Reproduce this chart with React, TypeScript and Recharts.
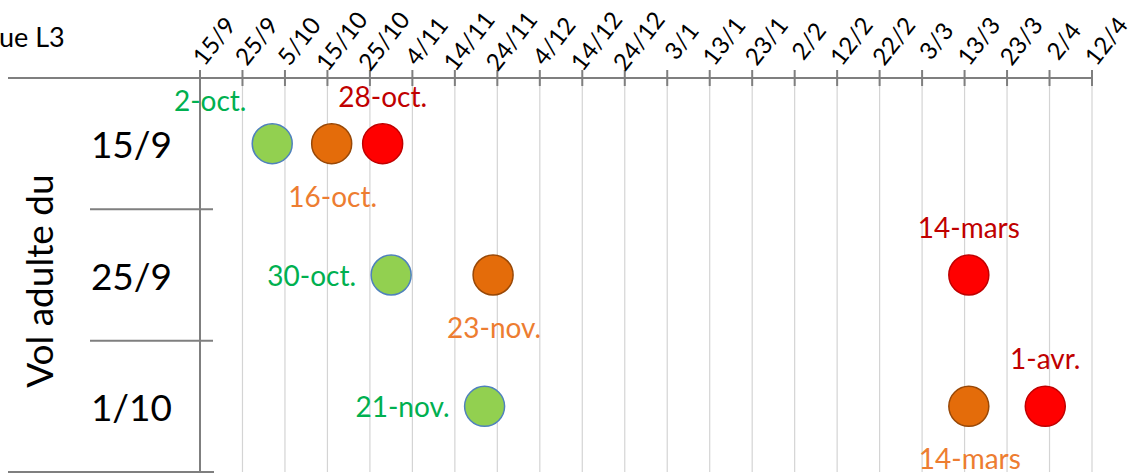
import { ScatterChart, Scatter, XAxis, YAxis, CartesianGrid } from 'recharts';

// rows = date of the adult flight, x = days counted from 15/9 (leap year: 29/2 exists)
const ROWS = ['15/9', '25/9', '1/10'];

const TICK_DAYS = [0, 10, 20, 30, 40, 50, 60, 70, 80, 90, 100, 110, 120, 130, 140, 150, 160, 170, 180, 190, 200, 210];
const TICK_LABELS = [
  '15/9', '25/9', '5/10', '15/10', '25/10', '4/11', '14/11', '24/11', '4/12', '14/12', '24/12',
  '3/1', '13/1', '23/1', '2/2', '12/2', '22/2', '3/3', '13/3', '23/3', '2/4', '12/4',
];

const GREEN_DAYS = [17, 45, 67];
const GREEN_LABELS = ['2-oct.', '30-oct.', '21-nov.'];

const ORANGE_DAYS = [31, 69, 181];
const ORANGE_LABELS = ['16-oct.', '23-nov.', '14-mars'];

const RED_DAYS = [43, 181, 199];
const RED_LABELS = ['28-oct.', '14-mars', '1-avr.'];

const FONT = 'Lato, "Open Sans", sans-serif';
const AXIS_GREY = '#7f7f7f';
const GRID_GREY = '#d4d4d4';

type Place = 'above' | 'aboveLeft' | 'below' | 'left';

const SERIES: {
  key: string;
  days: number[];
  labels: string[];
  fill: string;
  stroke: string;
  text: string;
  place: Place[];
}[] = [
  { key: 'green', days: GREEN_DAYS, labels: GREEN_LABELS, fill: '#92d050', stroke: '#4f81bd', text: '#00b050', place: ['aboveLeft', 'left', 'left'] },
  { key: 'orange', days: ORANGE_DAYS, labels: ORANGE_LABELS, fill: '#e46c0a', stroke: '#984807', text: '#ed7d31', place: ['below', 'below', 'below'] },
  { key: 'red', days: RED_DAYS, labels: RED_LABELS, fill: '#ff0000', stroke: '#c00000', text: '#c00000', place: ['above', 'above', 'above'] },
];

const labelPos = (place: Place, cx: number, cy: number) => {
  switch (place) {
    case 'above':
      return { x: cx, y: cy - 48, anchor: 'middle' };
    case 'aboveLeft':
      return { x: cx - 62, y: cy - 44, anchor: 'middle' };
    case 'below':
      return { x: cx + 1, y: cy + 52, anchor: 'middle' };
    default:
      return { x: cx - 35, y: cy, anchor: 'end' };
  }
};

const makeShape = (s: (typeof SERIES)[number]) => (props: any) => {
  const { cx, cy, payload } = props;
  if (cx == null || cy == null) return <g />;
  const p = labelPos(s.place[payload.row], cx, cy);
  return (
    <g>
      <circle cx={cx} cy={cy} r={20} fill={s.fill} stroke={s.stroke} strokeWidth={1.5} />
      <text x={p.x} y={p.y} textAnchor={p.anchor} dominantBaseline="central" fontFamily={FONT} fontSize={28} fill={s.text}>
        {payload.label}
      </text>
    </g>
  );
};

const XTick = (props: any) => {
  const { x, y, payload } = props;
  const i = TICK_DAYS.indexOf(payload.value);
  return (
    <g>
      <line x1={x} x2={x} y1={y - 8} y2={y + 8} stroke={AXIS_GREY} strokeWidth={2} />
      <text
        transform={`translate(${x + 14},${y - 37}) rotate(-52)`}
        textAnchor="middle"
        dy="0.36em"
        fontFamily={FONT}
        fontSize={24}
        fill="#000"
      >
        {TICK_LABELS[i]}
      </text>
    </g>
  );
};

const YTick = (props: any) => {
  const { x, y, payload } = props;
  const v = payload.value as number;
  if (Number.isInteger(v)) {
    return (
      <text x={x - 28} y={y} textAnchor="end" dominantBaseline="central" fontFamily={FONT} fontSize={37} fill="#000">
        {ROWS[v]}
      </text>
    );
  }
  if (v < 0) return <line x1={8} x2={x} y1={y} y2={y} stroke={AXIS_GREY} strokeWidth={2} />;
  if (v >= ROWS.length - 0.5) return <line x1={8} x2={x + 14} y1={y} y2={y} stroke={AXIS_GREY} strokeWidth={2} />;
  return <line x1={x - 110} x2={x + 13} y1={y} y2={y} stroke={AXIS_GREY} strokeWidth={2} />;
};

export default function App() {
  return (
    <div style={{ position: 'absolute', left: 0, top: 0, width: 1132, height: 474, background: '#fff' }}>
      <ScatterChart width={1132} height={474} margin={{ top: 0, right: 40, bottom: 2, left: 0 }}>
        <CartesianGrid vertical horizontal={false} stroke={GRID_GREY} strokeWidth={1.2} />
        <XAxis
          type="number"
          dataKey="day"
          orientation="top"
          height={78}
          domain={[0, 210]}
          ticks={TICK_DAYS}
          interval={0}
          tickSize={0}
          tickMargin={0}
          tickLine={false}
          axisLine={{ stroke: AXIS_GREY, strokeWidth: 2 }}
          tick={<XTick />}
          label={{
            content: () => (
              <text x={-1} y={47} fontFamily={FONT} fontSize={27} fill="#000">
                ue L3
              </text>
            ),
          }}
        />
        <YAxis
          type="number"
          dataKey="row"
          width={200}
          reversed
          domain={[-0.5, 2.5]}
          ticks={[-0.5, 0, 0.5, 1, 1.5, 2, 2.5]}
          interval={0}
          tickSize={0}
          tickMargin={0}
          tickLine={false}
          axisLine={{ stroke: AXIS_GREY, strokeWidth: 2 }}
          tick={<YTick />}
          label={{
            content: (p: any) => {
              const vb = p.viewBox || { x: 0, y: 78, height: 394 };
              const cy = vb.y + vb.height / 2 + 6;
              return (
                <text
                  transform={`translate(${vb.x + 38},${cy}) rotate(-90)`}
                  textAnchor="middle"
                  dominantBaseline="central"
                  fontFamily={FONT}
                  fontSize={37}
                  fill="#000"
                >
                  Vol adulte du
                </text>
              );
            },
          }}
        />
        {SERIES.map((s) => (
          <Scatter
            key={s.key}
            name={s.key}
            data={ROWS.map((_, i) => ({ day: s.days[i], row: i, label: s.labels[i] }))}
            shape={makeShape(s)}
            isAnimationActive={false}
          />
        ))}
      </ScatterChart>
    </div>
  );
}
